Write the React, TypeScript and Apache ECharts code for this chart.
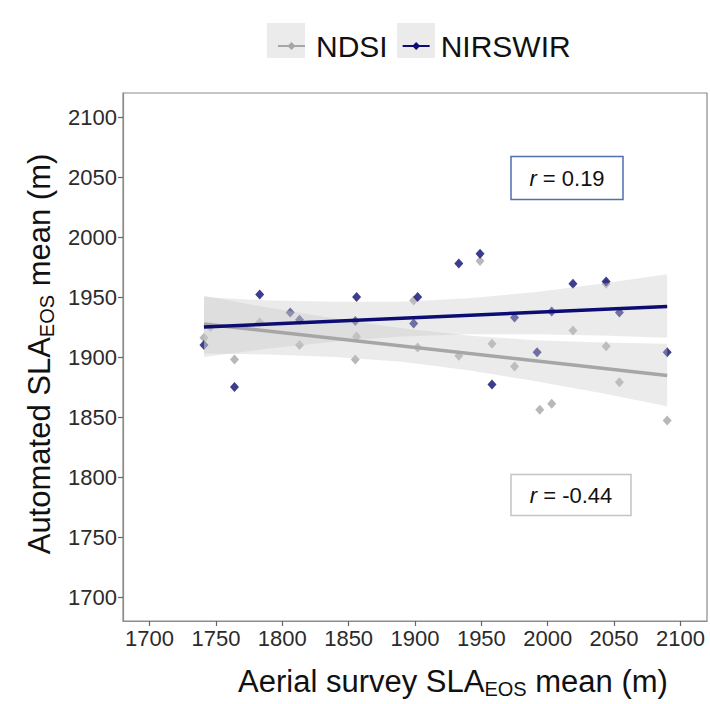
import React, { useEffect, useRef } from 'react';
import * as echarts from 'echarts';

const xTicks = [1700, 1750, 1800, 1850, 1900, 1950, 2000, 2050, 2100];
const yTicks = [1700, 1750, 1800, 1850, 1900, 1950, 2000, 2050, 2100];

const ndsiX = [1741, 1746, 1764, 1783, 1813, 1855, 1856, 1899, 1902, 1933, 1949, 1958, 1975, 1994, 2003, 2019, 2044, 2044, 2054, 2090];
const ndsiY = [1916, 1925, 1898, 1929, 1910, 1898, 1917, 1947, 1908, 1901, 1980, 1911, 1892, 1856, 1861, 1922, 1909, 1961, 1879, 1847];

const nirX = [1741, 1764, 1783, 1806, 1813, 1855, 1856, 1899, 1902, 1933, 1949, 1958, 1975, 1992, 2003, 2019, 2044, 2054, 2090];
const nirY = [1910, 1875, 1952, 1937, 1931, 1930, 1950, 1928, 1950, 1978, 1986, 1877, 1933, 1904, 1938, 1961, 1963, 1937, 1904];

const fitX = [1741, 2090];
const ndsiFitY = [1927.5, 1884.6];
const nirFitY = [1925, 1942];

const bandX = [1741, 1790, 1840, 1890, 1940, 1990, 2040, 2090];
const ndsiLo = [1903, 1902, 1900, 1896, 1889, 1880, 1870, 1859];
const ndsiHi = [1951, 1941, 1932, 1924, 1918, 1914, 1912, 1911];
const nirLo = [1900, 1907, 1913, 1917, 1919, 1919, 1918, 1916];
const nirHi = [1950, 1947, 1946, 1946, 1949, 1954, 1961, 1969];

const seriesNames = ['NDSI', 'NIRSWIR'];
const rValues = ['0.19', '-0.44'];

const NAVY = '#0c0c72';
const GREY = '#a6a6a6';
const FONT = '"Liberation Sans", Arial, sans-serif';

function pairs(xs: number[], ys: number[]) {
  return xs.map((x, i) => [x, ys[i]]);
}

function bandSeries(lo: number[], hi: number[]) {
  return {
    type: 'custom',
    silent: true,
    z: 3,
    clip: false,
    data: [[bandX[0], lo[0]]],
    renderItem: (_params: any, api: any) => {
      const pts: number[][] = [];
      for (let i = 0; i < bandX.length; i++) pts.push(api.coord([bandX[i], hi[i]]));
      for (let i = bandX.length - 1; i >= 0; i--) pts.push(api.coord([bandX[i], lo[i]]));
      return {
        type: 'polygon',
        shape: { points: pts },
        style: { fill: 'rgba(200,200,200,0.36)', stroke: 'none' },
      };
    },
  };
}

export default function App() {
  const ref = useRef<HTMLDivElement>(null);
  useEffect(() => {
    if (!ref.current) return;
    const chart = echarts.init(ref.current, null, { renderer: 'svg' });
    const titleRich = {
      a: { fontSize: 31, fontFamily: FONT, color: '#111', lineHeight: 36, verticalAlign: 'bottom' },
      s: { fontSize: 20, fontFamily: FONT, color: '#111', lineHeight: 22, verticalAlign: 'bottom', padding: [0, 0, -2, 0] },
    };
    const fmt = (v: number) => String(v);
    const option: any = {
      animation: false,
      backgroundColor: '#ffffff',
      textStyle: { fontFamily: FONT },
      grid: {
        left: 123, right: 3, top: 93, bottom: 82,
        show: true, borderColor: '#8c8c8c', borderWidth: 1.2,
      },
      legend: {
        data: seriesNames,
        left: 272,
        top: 26,
        itemWidth: 27,
        itemHeight: 10,
        itemGap: 14,
        z: 10,
        textStyle: { fontSize: 30, color: '#111', fontFamily: FONT, padding: [0, 0, 0, 6], lineHeight: 28 },
      },
      xAxis: {
        type: 'value',
        min: 1680,
        max: 2120,
        splitLine: { show: false },
        axisLine: { show: true, lineStyle: { color: '#8c8c8c', width: 1.2 } },
        axisTick: { show: true, length: 5, lineStyle: { color: '#666', width: 1.2 }, customValues: xTicks },
        axisLabel: { fontSize: 22, color: '#2b2b2b', margin: 6, fontFamily: FONT, customValues: xTicks, formatter: fmt },
        name: '{a|Aerial survey SLA}{s|EOS}{a| mean (m)}',
        nameLocation: 'middle',
        nameGap: 40,
        nameTextStyle: { rich: titleRich, padding: [0, 0, 0, 76] },
      },
      yAxis: {
        type: 'value',
        min: 1680,
        max: 2120,
        splitLine: { show: false },
        axisLine: { show: true, lineStyle: { color: '#8c8c8c', width: 1.2 } },
        axisTick: { show: true, length: 5, lineStyle: { color: '#666', width: 1.2 }, customValues: yTicks },
        axisLabel: { fontSize: 22, color: '#2b2b2b', margin: 6, fontFamily: FONT, customValues: yTicks, formatter: fmt },
        name: '{a|Automated SLA}{s|EOS}{a| mean (m)}',
        nameLocation: 'middle',
        nameGap: 68,
        nameRotate: 90,
        nameTextStyle: { rich: titleRich, padding: [0, 0, 0, 6] },
      },
      graphic: [
        { type: 'rect', z: 0, shape: { x: 267, y: 23, width: 38, height: 35 }, style: { fill: '#ebebeb' } },
        { type: 'rect', z: 0, shape: { x: 397, y: 23, width: 38, height: 35 }, style: { fill: '#ebebeb' } },
        { type: 'rect', z: 20, shape: { x: 511, y: 156.5, width: 112, height: 43 }, style: { fill: '#fff', stroke: '#4f6fae', lineWidth: 1.5 } },
        {
          type: 'text', z: 21, x: 567, y: 178,
          style: {
            text: '{i|r}{n| = ' + rValues[0] + '}', align: 'center', verticalAlign: 'middle',
            rich: { i: { fontSize: 22, fontStyle: 'italic', fontFamily: FONT, fill: '#111' }, n: { fontSize: 22, fontFamily: FONT, fill: '#111' } },
          },
        },
        { type: 'rect', z: 20, shape: { x: 511, y: 474.5, width: 120, height: 41 }, style: { fill: '#fff', stroke: '#c4c4c4', lineWidth: 1.5 } },
        {
          type: 'text', z: 21, x: 571, y: 495,
          style: {
            text: '{i|r}{n| = ' + rValues[1] + '}', align: 'center', verticalAlign: 'middle',
            rich: { i: { fontSize: 22, fontStyle: 'italic', fontFamily: FONT, fill: '#111' }, n: { fontSize: 22, fontFamily: FONT, fill: '#111' } },
          },
        },
      ],
      series: [
        {
          name: 'NDSI points', type: 'scatter', z: 2,
          symbol: 'diamond', symbolSize: [9, 10],
          itemStyle: { color: GREY },
          data: pairs(ndsiX, ndsiY),
        },
        {
          name: 'NIRSWIR points', type: 'scatter', z: 2,
          symbol: 'diamond', symbolSize: [9, 10],
          itemStyle: { color: NAVY },
          data: pairs(nirX, nirY),
        },
        bandSeries(ndsiLo, ndsiHi),
        bandSeries(nirLo, nirHi),
        {
          name: 'NDSI', type: 'line', z: 4,
          symbol: 'diamond', showSymbol: false,
          lineStyle: { color: GREY, width: 3.5 },
          itemStyle: { color: GREY },
          data: pairs(fitX, ndsiFitY),
        },
        {
          name: 'NIRSWIR', type: 'line', z: 4,
          symbol: 'diamond', showSymbol: false,
          lineStyle: { color: NAVY, width: 3.5 },
          itemStyle: { color: NAVY },
          data: pairs(fitX, nirFitY),
        },
      ],
    };
    chart.setOption(option);
    return () => chart.dispose();
  }, []);
  return <div ref={ref} style={{ position: 'fixed', left: 0, top: 0, width: 710, height: 704 }} />;
}
